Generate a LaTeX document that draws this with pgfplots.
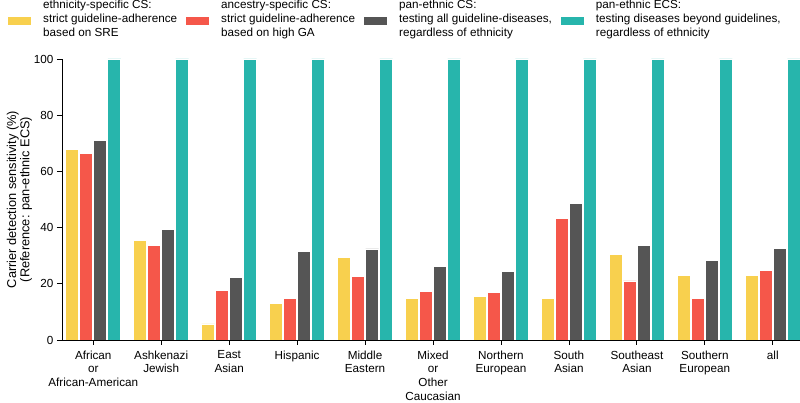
\documentclass[border=0pt]{standalone}
\usepackage{pgfplots}
\pgfplotsset{compat=1.18}
\usepackage{fontspec}
\setmainfont{Liberation Sans}
\definecolor{cy}{HTML}{F8D04E}
\definecolor{cr}{HTML}{F5574A}
\definecolor{cd}{HTML}{555555}
\definecolor{ct}{HTML}{27B5AC}
\begin{document}
\begin{tikzpicture}
\begin{axis}[
  scale only axis, width=738pt, height=281pt,
  xmin=-0.46, xmax=10.4, ymin=0, ymax=100,
  axis x line*=bottom, axis y line*=left,
  axis line style={line width=0.9pt, black},
  ybar=1pt, bar width=13pt,
  xtick={0,...,10},
  xticklabels={{African\\or\\African-American},{Ashkenazi\\Jewish},{East\\Asian},{Hispanic},{Middle\\Eastern},{Mixed\\or\\Other\\Caucasian},{Northern\\European},{South\\Asian},{Southeast\\Asian},{Southern\\European},{all}},
  xticklabel style={align=center, font=\fontsize{11.7}{13.7}\selectfont, yshift=-2pt},
  ytick={0,20,40,60,80,100},
  yticklabel style={font=\fontsize{11.7}{13.7}\selectfont},
  /pgf/number format/assume math mode=true,
  tick style={black, line width=0.9pt},
  tick align=outside, major tick length=5pt,
  ylabel={Carrier detection sensitivity (\%)\\(Reference: pan-ethnic ECS)},
  ylabel style={align=center, font=\fontsize{12.8}{13.2}\selectfont, yshift=-5pt},
  every axis plot/.append style={draw=white, line width=0.8pt},
  legend columns=4,
  legend style={at={(-0.0732,1.21)}, anchor=north west, draw=none, inner sep=0pt,
    font=\fontsize{11.7}{13.7}\selectfont,
    nodes={align=left, inner sep=0pt, outer sep=0pt},
    /tikz/every even column/.append style={column sep=9pt},
    /tikz/every odd column/.append style={column sep=12pt}},
  legend image code/.code={\fill[#1,draw=none] (0pt,-6.5pt) rectangle (23pt,1.5pt);},
]
\addplot[fill=cy] coordinates {(0,67.9) (1,35.4) (2,5.7) (3,12.9) (4,29.4) (5,14.7) (6,15.4) (7,14.7) (8,30.4) (9,22.9) (10,22.9)};
\addplot[fill=cr] coordinates {(0,66.4) (1,33.6) (2,17.6) (3,14.8) (4,22.7) (5,17.3) (6,16.8) (7,43.3) (8,21.0) (9,14.9) (10,24.7)};
\addplot[fill=cd] coordinates {(0,70.9) (1,39.5) (2,22.1) (3,31.6) (4,32.4) (5,26.2) (6,24.3) (7,48.6) (8,33.8) (9,28.2) (10,32.6)};
\addplot[fill=ct] coordinates {(0,100) (1,100) (2,100) (3,100) (4,100) (5,100) (6,100) (7,100) (8,100) (9,100) (10,100)};
\legend{{ethnicity-specific CS:\\strict guideline-adherence\\based on SRE},
        {ancestry-specific CS:\\strict guideline-adherence\\based on high GA},
        {pan-ethnic CS:\\testing all guideline-diseases,\\regardless of ethnicity},
        {pan-ethnic ECS:\\testing diseases beyond guidelines,\\regardless of ethnicity}}
\end{axis}
\pgfresetboundingbox
\useasboundingbox (-62pt,-63pt) rectangle (738pt,340pt);
\end{tikzpicture}
\end{document}
